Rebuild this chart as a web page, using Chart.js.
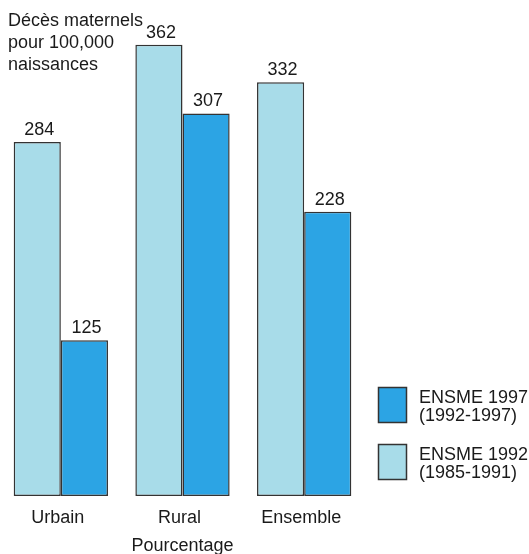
<!DOCTYPE html>
<html>
<head>
<meta charset="utf-8">
<script src="https://cdn.jsdelivr.net/npm/chart.js@4"></script>
<style>
  body { margin: 0; background: #fff; }
  canvas { display: block; }
</style>
</head>
<body>
<canvas id="chart" width="529" height="554"></canvas>
<script>
var categories = ['Urbain', 'Rural', 'Ensemble'];
var ensme1992 = [284, 362, 332];
var ensme1997 = [125, 307, 228];
var titleLines = ['Décès maternels', 'pour 100,000', 'naissances'];
var legendItems = [
    { lines: ['ENSME 1997', '(1992-1997)'], color: '#2ca4e4' },
    { lines: ['ENSME 1992', '(1985-1991)'], color: '#a8dce9' }
];
var axisTitle = 'Pourcentage';

var FONT = '18px "Liberation Sans", Arial, sans-serif';

// draws the title, value labels, category labels and the legend
var annotations = {
    id: 'annotations',
    afterDatasetsDraw: function (chart) {
        var ctx = chart.ctx;
        ctx.save();
        ctx.font = FONT;
        ctx.fillStyle = '#1a1a1a';

        // title top-left
        ctx.textAlign = 'left';
        ctx.textBaseline = 'alphabetic';
        titleLines.forEach(function (line, i) {
            ctx.fillText(line, 8, 26 + i * 22);
        });

        // values above bars
        ctx.textAlign = 'center';
        chart.data.datasets.forEach(function (ds, di) {
            chart.getDatasetMeta(di).data.forEach(function (bar, i) {
                ctx.fillText(String(ds.data[i]), bar.x + 2, bar.y - 7);
            });
        });

        // category labels
        var xScale = chart.scales.x;
        categories.forEach(function (cat, i) {
            ctx.fillText(cat, xScale.getPixelForValue(i) - 3, 523);
        });
        ctx.fillText(axisTitle, xScale.getPixelForValue(1), 551);

        // legend
        ctx.textAlign = 'left';
        legendItems.forEach(function (item, i) {
            var top = 387 + i * 57;
            ctx.fillStyle = item.color;
            ctx.fillRect(378, top, 29, 36);
            ctx.strokeStyle = '#333';
            ctx.lineWidth = 1.5;
            ctx.strokeRect(378.5, top + 0.5, 28, 35);
            ctx.fillStyle = '#1a1a1a';
            ctx.fillText(item.lines[0], 419, top + 16);
            ctx.fillText(item.lines[1], 419, top + 34);
        });
        ctx.restore();
    }
};

var chart = new Chart(document.getElementById('chart').getContext('2d'), {
    type: 'bar',
    data: {
        labels: categories,
        datasets: [{
            label: 'ENSME 1992 (1985-1991)',
            data: ensme1992,
            backgroundColor: '#a8dce9',
            borderColor: '#333',
            borderWidth: 1.5,
            borderSkipped: false
        }, {
            label: 'ENSME 1997 (1992-1997)',
            data: ensme1997,
            backgroundColor: '#2ca4e4',
            borderColor: '#333',
            borderWidth: 1.5,
            borderSkipped: false
        }]
    },
    options: {
        responsive: false,
        animation: false,
        layout: { padding: { left: 0, right: 164, top: 0, bottom: 58 } },
        categoryPercentage: 0.775,
        barPercentage: 1.0,
        plugins: {
            legend: { display: false },
            tooltip: { enabled: false }
        },
        scales: {
            x: { display: false },
            y: { display: false, min: 0, max: 398 }
        }
    },
    plugins: [annotations]
});
</script>
</body>
</html>
